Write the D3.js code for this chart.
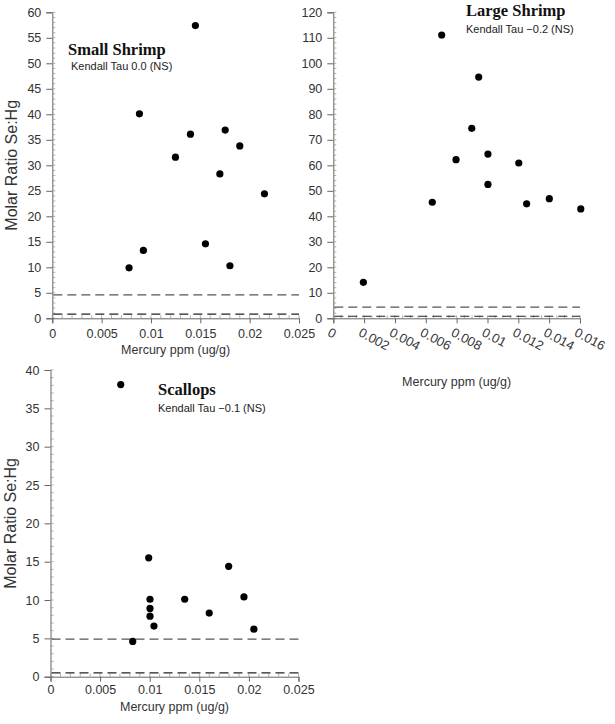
<!DOCTYPE html>
<html><head><meta charset="utf-8">
<script src="https://cdn.jsdelivr.net/npm/d3@7"></script>
<style>body{margin:0;background:#fff}svg{display:block}</style>
</head><body>
<svg id="c" width="615" height="724"></svg>
<script>
// ---- data ----
const smallShrimpHg    = [0.0145, 0.00883, 0.0140, 0.01752, 0.0190, 0.01248, 0.01698, 0.0215, 0.00923, 0.00778, 0.01552, 0.0180];
const smallShrimpRatio = [57.4, 40.1, 36.1, 36.9, 33.8, 31.6, 28.3, 24.4, 13.3, 9.9, 14.6, 10.3];
const largeShrimpHg    = [0.00703, 0.00943, 0.00898, 0.00796, 0.01003, 0.01203, 0.01003, 0.00642, 0.01254, 0.01401, 0.01605, 0.00195];
const largeShrimpRatio = [111.1, 94.6, 74.5, 62.2, 64.4, 60.9, 52.5, 45.5, 44.9, 46.9, 42.9, 14.1];
const scallopsHg       = [0.00708, 0.0099, 0.01003, 0.01003, 0.01003, 0.01043, 0.01353, 0.0160, 0.01796, 0.0195, 0.0205, 0.00829];
const scallopsRatio    = [38.1, 15.5, 10.1, 8.9, 7.9, 6.6, 10.1, 8.3, 14.4, 10.4, 6.2, 4.6];
const smallShrimpRefLines = [4.6, 0.8];
const largeShrimpRefLines = [4.4, 0.8];
const scallopsRefLines    = [4.9, 0.5];
const titles = ["Small Shrimp", "Large Shrimp", "Scallops"];
const kendall = ["Kendall Tau 0.0 (NS)", "Kendall Tau \u22120.2 (NS)", "Kendall Tau \u22120.1 (NS)"];
const xTicks025 = [0, 0.005, 0.01, 0.015, 0.02, 0.025];
const xTickLabels025 = ["0", "0.005", "0.01", "0.015", "0.02", "0.025"];
const xTicks016 = [0, 0.002, 0.004, 0.006, 0.008, 0.01, 0.012, 0.014, 0.016];
const xTickLabels016 = ["0", "0.002", "0.004", "0.006", "0.008", "0.01", "0.012", "0.014", "0.016"];
const xTitle = "Mercury ppm (ug/g)";
const yTitle = "Molar Ratio Se:Hg";

const svg = d3.select("#c");
svg.append("rect").attr("width", 615).attr("height", 724).attr("fill", "#fff");

function range(a, b, s) { const out = []; for (let v = a; v <= b + s * 1e-6; v += s) out.push(+v.toFixed(6)); return out; }

const SANS = "Arial, 'Liberation Sans', sans-serif";

function panel(cfg) {
  const g = svg.append("g");
  const x = d3.scaleLinear().domain(cfg.xDomain).range([cfg.left, cfg.right]);
  const y = d3.scaleLinear().domain(cfg.yDomain).range([cfg.bottom, cfg.top]);
  const axisCol = "#666";
  // y axis
  const ya = d3.axisLeft(y).tickValues(cfg.yTicks).tickSize(6).tickFormat(d3.format("d"));
  const yg = g.append("g").attr("transform", `translate(${cfg.left},0)`).call(ya);
  yg.select(".domain").attr("stroke", axisCol);
  yg.selectAll(".tick line").attr("stroke", axisCol);
  yg.selectAll(".tick text").attr("font-family", SANS).attr("font-size", 12.5).attr("fill", "#333").attr("x", -11);
  // y minor (inward)
  g.append("g").selectAll("line").data(cfg.yMinor).join("line")
    .attr("x1", cfg.left).attr("x2", cfg.left + 3).attr("y1", d => y(d)).attr("y2", d => y(d))
    .attr("stroke", "#999").attr("stroke-width", 0.8);
  // x axis
  const xa = d3.axisBottom(x).tickValues(cfg.xTicks).tickSize(5).tickFormat((d, i) => cfg.xLabels[i]);
  const xg = g.append("g").attr("transform", `translate(0,${cfg.bottom})`).call(xa);
  xg.select(".domain").attr("stroke", axisCol);
  xg.selectAll(".tick line").attr("stroke", axisCol);
  const xt = xg.selectAll(".tick text").attr("font-family", SANS).attr("font-size", 12.5).attr("fill", "#333");
  if (cfg.rotate) {
    xt.attr("text-anchor", "start").attr("y", 0).attr("dy", 0).attr("font-size", 13)
      .attr("transform", "translate(-7,17) rotate(28)");
  } else {
    xt.attr("y", cfg.xLabelY);
  }
  // x minor (inward)
  g.append("g").selectAll("line").data(cfg.xMinor).join("line")
    .attr("x1", d => x(d)).attr("x2", d => x(d)).attr("y1", cfg.bottom).attr("y2", cfg.bottom - 3)
    .attr("stroke", "#999").attr("stroke-width", 0.8);
  // reference lines
  g.append("g").selectAll("line").data(cfg.ref).join("line")
    .attr("x1", cfg.left + 1).attr("x2", cfg.right).attr("y1", d => y(d)).attr("y2", d => y(d))
    .attr("stroke", (d, i) => i === 0 ? "#555" : "#222").attr("stroke-width", 1.2).attr("stroke-dasharray", "9,5");
  // points
  g.append("g").selectAll("circle").data(cfg.xs.map((v, i) => [v, cfg.ys[i]])).join("circle")
    .attr("cx", d => x(d[0])).attr("cy", d => y(d[1])).attr("r", 3.6).attr("fill", "#000");
  // titles
  g.append("text").attr("x", cfg.tx).attr("y", cfg.ty).text(cfg.title)
    .attr("font-family", "'Times New Roman', 'Liberation Serif', serif").attr("font-weight", "bold").attr("font-size", 16.5).attr("fill", "#111");
  g.append("text").attr("x", cfg.kx).attr("y", cfg.ky).text(cfg.kendall)
    .attr("font-family", SANS).attr("font-size", 11).attr("fill", "#222");
  // axis titles
  g.append("text").attr("x", (cfg.left + cfg.right) / 2).attr("y", cfg.xTitleY).attr("text-anchor", "middle")
    .text(xTitle).attr("font-family", SANS).attr("font-size", 12.5).attr("fill", "#333");
  if (cfg.yTitleX != null) {
    g.append("text").attr("transform", `translate(${cfg.yTitleX},${(cfg.top + cfg.bottom) / 2}) rotate(-90)`).attr("text-anchor", "middle")
      .text(yTitle).attr("font-family", SANS).attr("font-size", 16).attr("fill", "#333");
  }
}

panel({
  left: 52.3, right: 299, top: 12.3, bottom: 318.3,
  xDomain: [0, 0.025], yDomain: [0, 60], xLabelY: 11,
  xTicks: xTicks025, xLabels: xTickLabels025, xMinor: range(0, 0.025, 0.001),
  yTicks: range(0, 60, 5), yMinor: range(0, 60, 1),
  ref: smallShrimpRefLines, xs: smallShrimpHg, ys: smallShrimpRatio,
  title: titles[0], tx: 68, ty: 55, kendall: kendall[0], kx: 71, ky: 70,
  xTitleY: 354, yTitleX: 17
});
panel({
  left: 333.3, right: 580, top: 12.3, bottom: 318.3,
  xDomain: [0, 0.016], yDomain: [0, 120], rotate: true,
  xTicks: xTicks016, xLabels: xTickLabels016, xMinor: range(0, 0.016, 0.0005),
  yTicks: range(0, 120, 10), yMinor: range(0, 120, 2),
  ref: largeShrimpRefLines, xs: largeShrimpHg, ys: largeShrimpRatio,
  title: titles[1], tx: 466, ty: 16, kendall: kendall[1], kx: 466, ky: 33,
  xTitleY: 386, yTitleX: null
});
panel({
  left: 50.5, right: 298.5, top: 370, bottom: 676.7,
  xDomain: [0, 0.025], yDomain: [0, 40], xLabelY: 8,
  xTicks: xTicks025, xLabels: xTickLabels025, xMinor: range(0, 0.025, 0.001),
  yTicks: range(0, 40, 5), yMinor: range(0, 40, 1),
  ref: scallopsRefLines, xs: scallopsHg, ys: scallopsRatio,
  title: titles[2], tx: 158, ty: 395, kendall: kendall[2], kx: 158, ky: 412,
  xTitleY: 711, yTitleX: 16
});
</script>
</body></html>
